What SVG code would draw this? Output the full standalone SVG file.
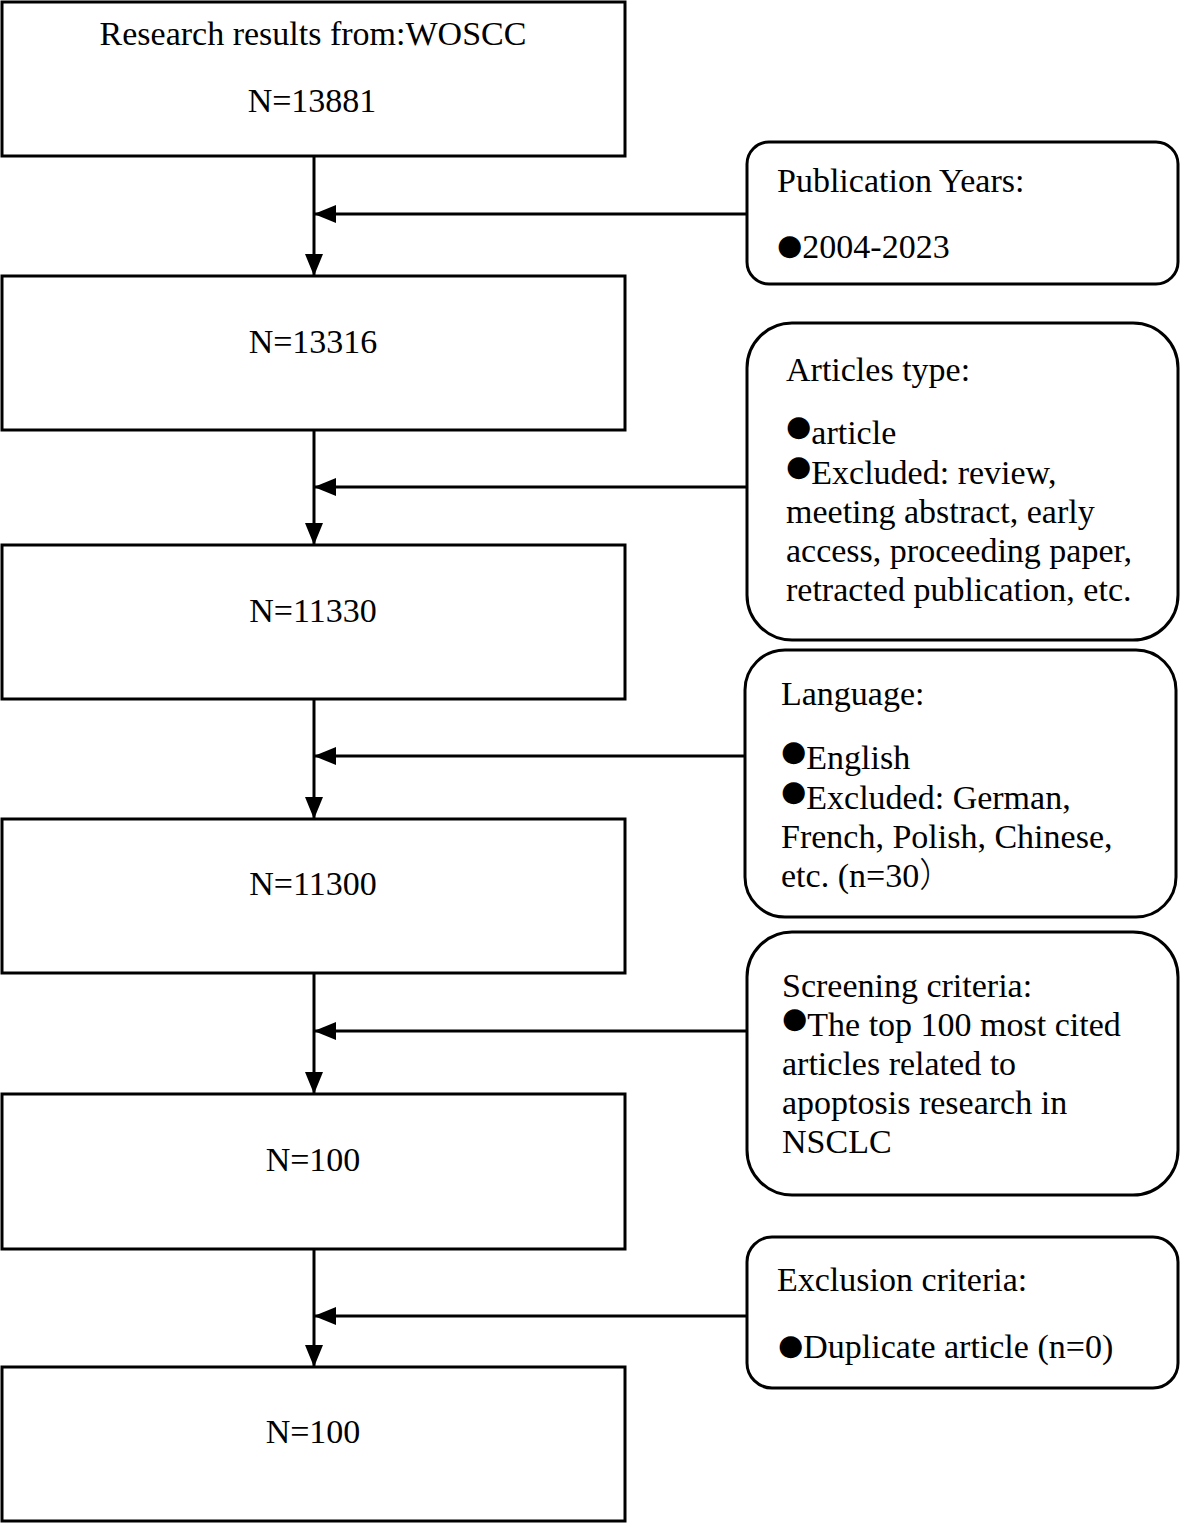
<svg xmlns="http://www.w3.org/2000/svg" width="1180" height="1523" viewBox="0 0 1180 1523">
<style>
.box{fill:#fff;stroke:#000;stroke-width:3}
.t{font-family:"Liberation Serif","Times New Roman",serif;font-size:34px;fill:#000}
.c{text-anchor:middle}
.b{font-family:"DejaVu Sans",sans-serif;font-size:29px}
.ln{stroke:#000;stroke-width:3;fill:none}
</style>
<defs>
<marker id="ah" viewBox="0 0 22 18" refX="22" refY="9" markerWidth="22" markerHeight="18" markerUnits="userSpaceOnUse" orient="auto">
<path d="M0,0 L22,9 L0,18 z" fill="#000"/>
</marker>
</defs>
<rect width="1180" height="1523" fill="#fff"/>
<g id="connectors">
<line class="ln" x1="314" y1="156" x2="314" y2="276" marker-end="url(#ah)"/>
<line class="ln" x1="314" y1="430" x2="314" y2="545" marker-end="url(#ah)"/>
<line class="ln" x1="314" y1="699" x2="314" y2="819" marker-end="url(#ah)"/>
<line class="ln" x1="314" y1="973" x2="314" y2="1094" marker-end="url(#ah)"/>
<line class="ln" x1="314" y1="1249" x2="314" y2="1367" marker-end="url(#ah)"/>
<line class="ln" x1="747" y1="214" x2="314" y2="214" marker-end="url(#ah)"/>
<line class="ln" x1="747" y1="487" x2="314" y2="487" marker-end="url(#ah)"/>
<line class="ln" x1="745" y1="756" x2="314" y2="756" marker-end="url(#ah)"/>
<line class="ln" x1="747" y1="1031" x2="314" y2="1031" marker-end="url(#ah)"/>
<line class="ln" x1="747" y1="1316" x2="314" y2="1316" marker-end="url(#ah)"/>
</g>
<g id="n1"><rect class="box" x="2" y="2" width="623" height="154"/>
<text class="t c" x="313" y="45">Research results from:WOSCC</text>
<text class="t c" x="312" y="112">N=13881</text></g>
<g id="n2"><rect class="box" x="2" y="276" width="623" height="154"/>
<text class="t c" x="313" y="353">N=13316</text></g>
<g id="n3"><rect class="box" x="2" y="545" width="623" height="154"/>
<text class="t c" x="313" y="622">N=11330</text></g>
<g id="n4"><rect class="box" x="2" y="819" width="623" height="154"/>
<text class="t c" x="313" y="895">N=11300</text></g>
<g id="n5"><rect class="box" x="2" y="1094" width="623" height="155"/>
<text class="t c" x="313" y="1171">N=100</text></g>
<g id="n6"><rect class="box" x="2" y="1367" width="623" height="154"/>
<text class="t c" x="313" y="1443">N=100</text></g>
<g id="r1"><rect class="box" x="747" y="142" width="431" height="142" rx="22"/>
<text class="t" x="777" y="192">Publication Years:</text>
<text class="t" x="777" y="258"><tspan class="b" dy="-3">●</tspan><tspan dy="3">2004-2023</tspan></text></g>
<g id="r2"><rect class="box" x="747" y="323" width="431" height="317" rx="45"/>
<text class="t" x="786" y="381">Articles type:</text>
<text class="t" x="786" y="444"><tspan class="b" dy="-8">●</tspan><tspan dy="8">article</tspan></text>
<text class="t" x="786" y="484"><tspan class="b" dy="-8">●</tspan><tspan dy="8">Excluded: review,</tspan></text>
<text class="t" x="786" y="523">meeting abstract, early</text>
<text class="t" x="786" y="562">access, proceeding paper,</text>
<text class="t" x="786" y="601">retracted publication, etc.</text></g>
<g id="r3"><rect class="box" x="745" y="650" width="431" height="267" rx="40"/>
<text class="t" x="781" y="705">Language:</text>
<text class="t" x="781" y="769"><tspan class="b" dy="-8">●</tspan><tspan dy="8">English</tspan></text>
<text class="t" x="781" y="809"><tspan class="b" dy="-8">●</tspan><tspan dy="8">Excluded: German,</tspan></text>
<text class="t" x="781" y="848">French, Polish, Chinese,</text>
<text class="t" x="781" y="887">etc. (n=30<tspan font-family="'Noto Sans CJK SC',sans-serif" font-weight="300">）</tspan></text></g>
<g id="r4"><rect class="box" x="747" y="932" width="431" height="263" rx="45"/>
<text class="t" x="782" y="997">Screening criteria:</text>
<text class="t" x="782" y="1036"><tspan class="b" dy="-8">●</tspan><tspan dy="8">The top 100 most cited</tspan></text>
<text class="t" x="782" y="1075">articles related to</text>
<text class="t" x="782" y="1114">apoptosis research in</text>
<text class="t" x="782" y="1153">NSCLC</text></g>
<g id="r5"><rect class="box" x="747" y="1237" width="431" height="151" rx="25"/>
<text class="t" x="777" y="1291">Exclusion criteria:</text>
<text class="t" x="778" y="1358"><tspan class="b" dy="-3">●</tspan><tspan dy="3">Duplicate article (n=0)</tspan></text></g>
</svg>
